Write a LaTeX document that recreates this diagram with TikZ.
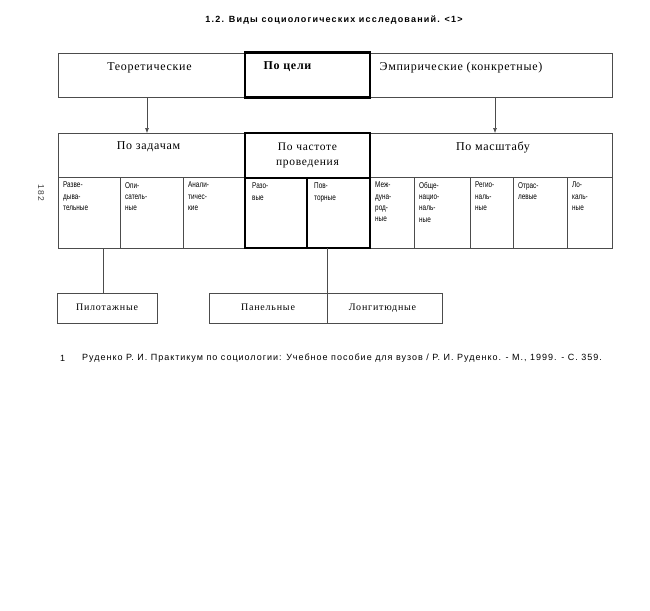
\documentclass[tikz,border=0pt]{standalone}
\usepackage{fontspec}
\setmainfont{Liberation Serif}
\newfontfamily\hdrfont[LetterSpace=6]{Liberation Serif}
\newfontfamily\cellfont[FakeStretch=0.76]{Liberation Sans}
\newfontfamily\lowfont[LetterSpace=8]{Liberation Serif}
\newfontfamily\titlefont[LetterSpace=13]{Liberation Sans}
\newfontfamily\notefont[LetterSpace=11]{Liberation Sans}
\usetikzlibrary{arrows.meta}
\begin{document}
\begin{tikzpicture}[x=1pt,y=-1pt,
  thinbox/.style={draw=black!70, line width=0.6pt, anchor=north west, inner sep=0pt, outer sep=0pt},
  thickbox/.style={draw=black, line width=2.4pt, anchor=north west, inner sep=0pt, outer sep=0pt},
  hdr/.style={font=\hdrfont\fontsize{12}{14.5}\selectfont, anchor=north, inner sep=0pt, align=center},
  cell/.style={font=\cellfont\fontsize{8.4}{11.3}\selectfont, anchor=north west, inner sep=0pt, align=left},
  low/.style={font=\lowfont\fontsize{10}{12}\selectfont, anchor=north, inner sep=0pt},
  conn/.style={draw=black!70, line width=0.6pt},
  arr/.style={conn, -{Latex[length=5pt,width=4pt]}}]
\useasboundingbox[fill=white] (0,0) rectangle (650,610);
% title
\node[font=\titlefont\bfseries\fontsize{9}{11}\selectfont, anchor=center] (title) at (334,20) {1.2. Виды социологических исследований. <1>};
% page number
\node[font=\notefont\fontsize{8.5}{10}\selectfont, rotate=-90, text=black!75] (page) at (41,193) {182};
% row 1
\node[thinbox, minimum width=187, minimum height=44] (teor) at (58,53) {};
\node[thinbox, minimum width=242, minimum height=44] (emp) at (370,53) {};
\node[thickbox, minimum width=125, minimum height=45] (celi) at (245,52.5) {};
\node[hdr] (teort) at ([shift={(-2,9)}]teor.north) {Теоретические};
\node[hdr] (empt) at ([shift={(-30,9)}]emp.north) {Эмпирические (конкретные)};
\node[hdr, font=\hdrfont\bfseries\fontsize{12}{14.5}\selectfont] (celit) at ([shift={(-20,9)}]celi.north) {По цели};
% row 2
\node[thinbox, minimum width=187, minimum height=44] (zad) at (58,133) {};
\node[thinbox, minimum width=242, minimum height=44] (mas) at (370,133) {};
\node[hdr] (zadt) at ([shift={(-3,8)}]zad.north) {По задачам};
\node[hdr] (mast) at ([shift={(2,9)}]mas.north) {По масштабу};
% row 3 cells
\node[thinbox, minimum width=62, minimum height=71] (c1) at (58,177) {};
\node[thinbox, minimum width=63, minimum height=71] (c2) at (120,177) {};
\node[thinbox, minimum width=62, minimum height=71] (c3) at (183,177) {};
\node[thinbox, minimum width=44, minimum height=71] (c6) at (370,177) {};
\node[thinbox, minimum width=56, minimum height=71] (c7) at (414,177) {};
\node[thinbox, minimum width=43, minimum height=71] (c8) at (470,177) {};
\node[thinbox, minimum width=54, minimum height=71] (c9) at (513,177) {};
\node[thinbox, minimum width=45, minimum height=71] (c10) at (567,177) {};
% thick column
\node[thickbox, minimum width=125, minimum height=45] (cha) at (245,133) {};
\node[thickbox, minimum width=62, minimum height=70] (c4) at (245,178) {};
\node[thickbox, minimum width=63, minimum height=70] (c5) at (307,178) {};
\node[hdr, font=\hdrfont\fontsize{11.5}{15}\selectfont] (chat) at ([shift={(0,10)}]cha.north) {По частоте\\проведения};
% cell texts
\node[cell] (t1) at ([shift={(5,5)}]c1.north west) {Разве-\\дыва-\\тельные};
\node[cell] (t2) at ([shift={(5,5)}]c2.north west) {Опи-\\сатель-\\ные};
\node[cell] (t3) at ([shift={(5,5)}]c3.north west) {Анали-\\тичес-\\кие};
\node[cell] (t4) at ([shift={(7,5)}]c4.north west) {Разо-\\вые};
\node[cell] (t5) at ([shift={(7,5)}]c5.north west) {Пов-\\торные};
\node[cell] (t6) at ([shift={(5,5)}]c6.north west) {Меж-\\дуна-\\род-\\ные};
\node[cell] (t7) at ([shift={(5,5)}]c7.north west) {Обще-\\нацио-\\наль-\\ные};
\node[cell] (t8) at ([shift={(5,5)}]c8.north west) {Регио-\\наль-\\ные};
\node[cell] (t9) at ([shift={(5,5)}]c9.north west) {Отрас-\\левые};
\node[cell] (t10) at ([shift={(5,5)}]c10.north west) {Ло-\\каль-\\ные};
% bottom boxes
\node[thinbox, minimum width=100, minimum height=30] (pil) at (57,293) {};
\node[thinbox, minimum width=118, minimum height=30] (pan) at (209,293) {};
\node[thinbox, minimum width=115, minimum height=30] (lon) at (327,293) {};
\node[low] (pilt) at ([shift={(0,11)}]pil.north) {Пилотажные};
\node[low] (pant) at ([shift={(0,11)}]pan.north) {Панельные};
\node[low] (lont) at ([shift={(-2,11)}]lon.north) {Лонгитюдные};
% connectors
\draw[arr] ([xshift=-4.5pt]teor.south) -- ([xshift=-4.5pt]zad.north);
\draw[arr] ([xshift=4pt]emp.south) -- ([xshift=4pt]mas.north);
\draw[conn] ([xshift=-4pt]pil.north) -- ([xshift=-4pt]pil.north |- c1.south);
\draw[conn] (pan.north east) -- (pan.north east |- c5.south);
% footnote
\node[font=\notefont\fontsize{9}{11}\selectfont, anchor=west, inner sep=0pt] (fn1) at (60,358) {1};
\node[font=\notefont\fontsize{9}{11}\selectfont, anchor=west, inner sep=0pt] (fn) at (82,358) {Руденко Р. И. Практикум по социологии: Учебное пособие для вузов / Р. И. Руденко. - М., 1999. - С. 359.};
\end{tikzpicture}
\end{document}
